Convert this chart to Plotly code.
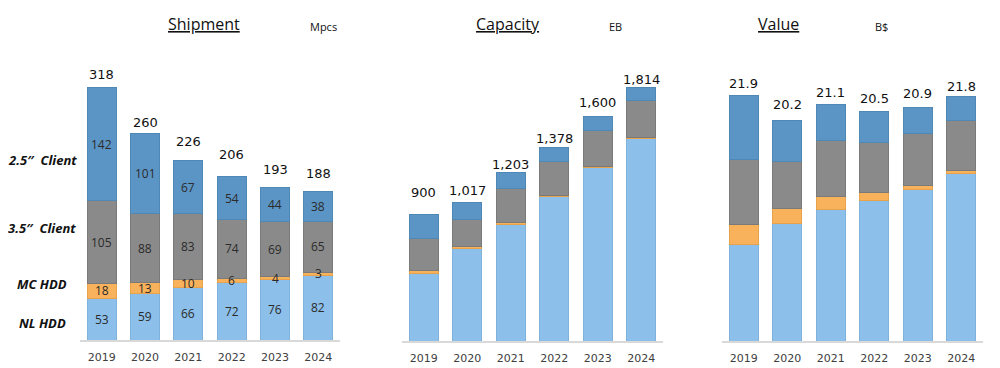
import plotly.graph_objects as go

years = ["2019", "2020", "2021", "2022", "2023", "2024"]
series_names = ["NL HDD", "MC HDD", "3.5\u2033 Client", "2.5\u2033 Client"]
colors = ["#8cc0ea", "#f9b25c", "#8a8a8a", "#5b95c5"]
line_colors = ["#7fb3dd", "#e9a24c", "#7a7a7a", "#4f87b5"]

# Shipment (Mpcs)
ship_nl = [53, 59, 66, 72, 76, 82]
ship_mc = [18, 13, 10, 6, 4, 3]
ship_35 = [105, 88, 83, 74, 69, 65]
ship_25 = [142, 101, 67, 54, 44, 38]
ship_totals = ["318", "260", "226", "206", "193", "188"]

# Capacity (EB)
cap_nl = [481, 662, 834, 1029, 1237, 1445]
cap_mc = [19, 16, 15, 12, 8, 6]
cap_35 = [234, 189, 243, 240, 260, 268]
cap_25 = [170, 121, 110, 99, 95, 95]
cap_totals = ["900", "1,017", "1,203", "1,378", "1,600", "1,814"]

# Value (B$)
val_nl = [8.6, 10.5, 11.75, 12.5, 13.5, 14.9]
val_mc = [1.8, 1.3, 1.1, 0.7, 0.35, 0.3]
val_35 = [5.8, 4.2, 5.0, 4.45, 4.6, 4.4]
val_25 = [5.7, 3.65, 3.2, 2.8, 2.35, 2.2]
val_totals = ["21.9", "20.2", "21.1", "20.5", "20.9", "21.8"]

# page offset compensation (browser body margin)
OFF = 8
W, H = 1000, 368


def px(x):
    return (x - OFF) / W


def py(y):
    return 1 - (y - OFF) / H


panels = [
    dict(series=[ship_nl, ship_mc, ship_35, ship_25], totals=ship_totals, rng=416.4,
         xdom=[px(80), px(340)], ydom=[py(340), py(10)], seglabels=True,
         lab_gap=[13, 11, 19, 22, 18, 18],
         title="Shipment", unit="Mpcs", tx=px(204), ux=px(323)),
    dict(series=[cap_nl, cap_mc, cap_35, cap_25], totals=cap_totals, rng=2364,
         xdom=[px(402), px(663)], ydom=[py(341), py(10)], seglabels=False,
         lab_gap=[22, 12, 8, 9, 14, 8],
         title="Capacity", unit="EB", tx=px(508), ux=px(615)),
    dict(series=[val_nl, val_mc, val_35, val_25], totals=val_totals, rng=29.47,
         xdom=[px(722), px(983)], ydom=[py(341), py(10)], seglabels=False,
         lab_gap=[12, 16, 12, 13, 14, 10],
         title="Value", unit="B$", tx=px(778), ux=px(881)),
]

xpos = list(range(len(years)))

fig = go.Figure()
annotations = []
layout_axes = {}

for i, p in enumerate(panels):
    n = i + 1
    xa = "x" if n == 1 else f"x{n}"
    ya = "y" if n == 1 else f"y{n}"
    for s, vals in enumerate(p["series"]):
        fig.add_trace(go.Bar(
            x=xpos, y=vals, name=series_names[s], xaxis=xa, yaxis=ya,
            width=0.67,
            marker=dict(color=colors[s], line=dict(color=line_colors[s], width=1)),
            showlegend=False, hoverinfo="skip",
        ))
    # totals
    sums = [sum(v[k] for v in p["series"]) for k in range(len(years))]
    for k in xpos:
        annotations.append(dict(
            x=k, y=sums[k], xref=xa, yref=ya, text=p["totals"][k],
            showarrow=False, yanchor="middle", yshift=p["lab_gap"][k],
            font=dict(family="DejaVu Sans", size=13, color="#111111"),
        ))
    # segment labels
    if p["seglabels"]:
        for k in xpos:
            cum = 0
            for s, vals in enumerate(p["series"]):
                v = vals[k]
                annotations.append(dict(
                    x=k, y=cum + v / 2, xref=xa, yref=ya, text=str(v),
                    showarrow=False, yanchor="middle",
                    font=dict(family="Open Sans", size=12, color="#2b2b2b"),
                ))
                cum += v
    # titles
    annotations.append(dict(
        x=p["tx"], y=py(24), xref="paper", yref="paper",
        text=f"<u>{p['title']}</u>", showarrow=False,
        xanchor="center", yanchor="middle",
        font=dict(family="Open Sans", size=16, color="#111111"),
    ))
    annotations.append(dict(
        x=p["ux"], y=py(27), xref="paper", yref="paper",
        text=p["unit"], showarrow=False, xanchor="center", yanchor="middle",
        font=dict(family="Open Sans", size=11, color="#111111"),
    ))
    xkey = "xaxis" if n == 1 else f"xaxis{n}"
    ykey = "yaxis" if n == 1 else f"yaxis{n}"
    layout_axes[xkey] = dict(
        domain=p["xdom"], anchor=ya, range=[-0.5, 5.5],
        tickmode="array", tickvals=xpos, ticktext=years,
        showline=True, linecolor="#d9d9d9", linewidth=1.5,
        showgrid=False, ticks="", zeroline=False, ticklabelstandoff=6,
        tickfont=dict(family="DejaVu Sans", size=11, color="#404040"),
    )
    layout_axes[ykey] = dict(
        domain=p["ydom"], anchor=xa, range=[0, p["rng"]],
        visible=False, showgrid=False, zeroline=False,
    )

# left category labels
left_labels = ["2.5\u2033\u00a0\u00a0Client", "3.5\u2033\u00a0\u00a0Client", "MC HDD", "NL HDD"]
left_y = [160, 228, 284, 323]
for lab, yy in zip(left_labels, left_y):
    annotations.append(dict(
        x=px(42), y=py(yy), xref="paper", yref="paper",
        text=f"<b><i>{lab}</i></b>", showarrow=False,
        xanchor="center", yanchor="middle",
        font=dict(family="Noto Sans", size=13, color="#111111"),
    ))

fig.update_layout(
    barmode="stack",
    width=W, height=H,
    margin=dict(l=0, r=0, t=0, b=0),
    paper_bgcolor="white", plot_bgcolor="white",
    annotations=annotations,
    **layout_axes,
)

fig.write_html("out.html")
